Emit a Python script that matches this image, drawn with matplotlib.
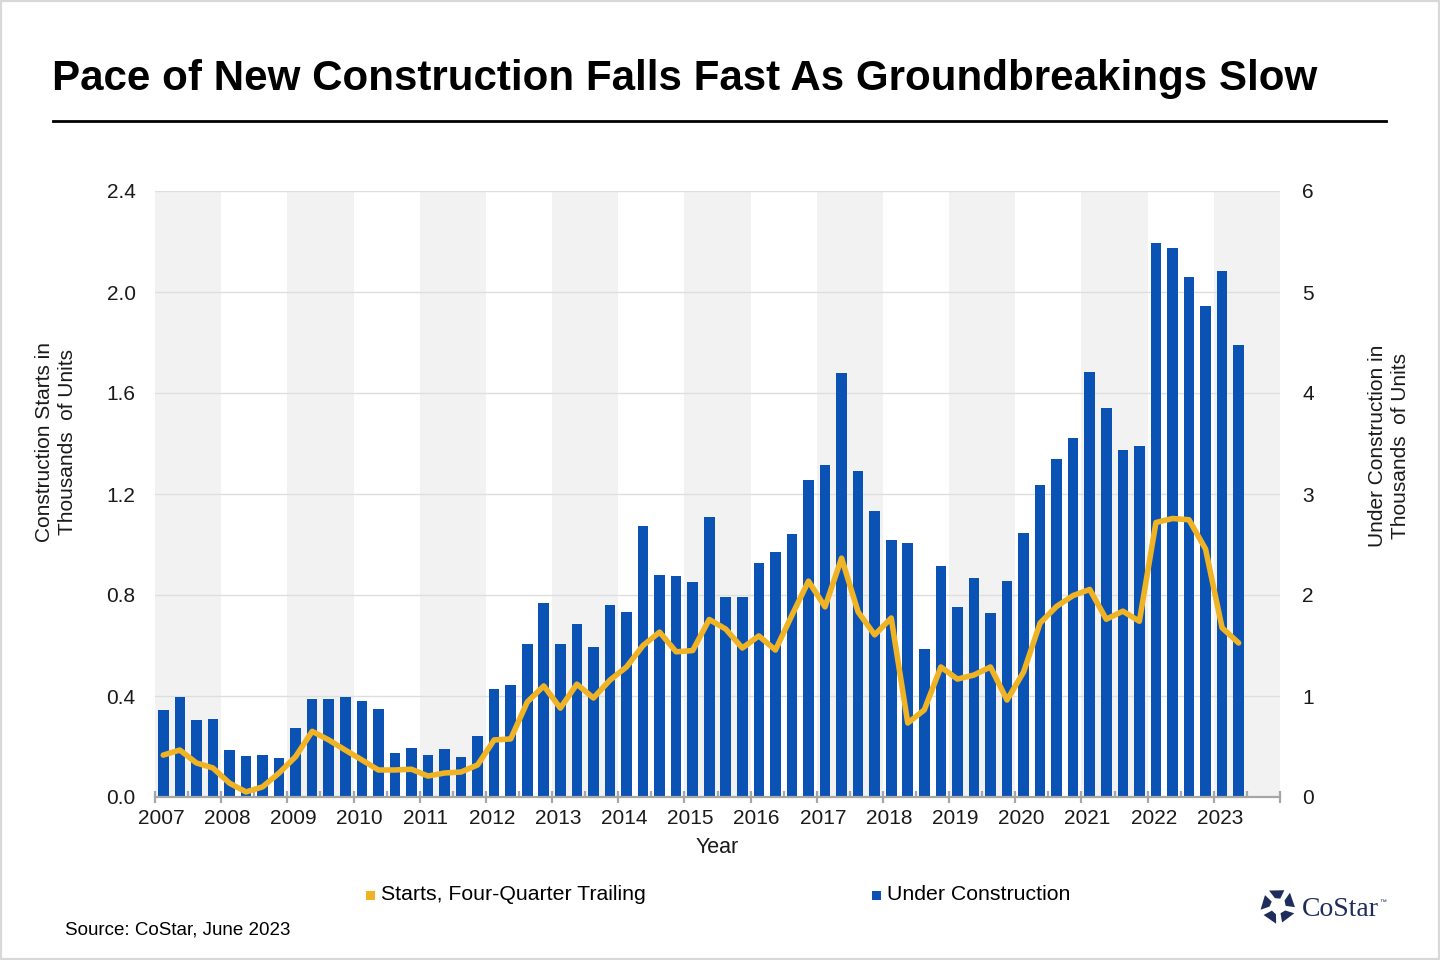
import matplotlib
matplotlib.use("Agg")
import matplotlib.pyplot as plt
import matplotlib.transforms as mtransforms
from matplotlib.patches import Rectangle, Polygon
import numpy as np

plt.rcParams['font.family'] = ['Liberation Sans', 'DejaVu Sans']

years = list(range(2007, 2024))
year_labels = [str(y) for y in years]

# Under Construction (thousands of units), quarterly 2007Q1 - 2023Q2 (right axis)
under_construction = [
    0.86, 0.99, 0.76, 0.77,   # 2007
    0.47, 0.41, 0.42, 0.39,   # 2008
    0.68, 0.97, 0.97, 0.99,   # 2009
    0.95, 0.87, 0.44, 0.49,   # 2010
    0.42, 0.48, 0.40, 0.60,   # 2011
    1.07, 1.11, 1.51, 1.92,   # 2012
    1.51, 1.71, 1.49, 1.90,   # 2013
    1.83, 2.68, 2.20, 2.19,   # 2014
    2.13, 2.77, 1.98, 1.98,   # 2015
    2.32, 2.43, 2.60, 3.14,   # 2016
    3.29, 4.20, 3.23, 2.83,   # 2017
    2.54, 2.51, 1.47, 2.29,   # 2018
    1.88, 2.17, 1.82, 2.14,   # 2019
    2.61, 3.09, 3.35, 3.55,   # 2020
    4.21, 3.85, 3.44, 3.48,   # 2021
    5.49, 5.44, 5.15, 4.86,   # 2022
    5.21, 4.48,               # 2023
]

# Starts, four-quarter trailing (thousands of units) (left axis)
starts = [
    0.166, 0.186, 0.135, 0.115,
    0.055, 0.020, 0.040, 0.095,
    0.160, 0.260, 0.226, 0.186,
    0.147, 0.107, 0.107, 0.110,
    0.083, 0.095, 0.099, 0.127,
    0.226, 0.230, 0.376, 0.440,
    0.352, 0.447, 0.392, 0.463,
    0.515, 0.600, 0.653, 0.575,
    0.580, 0.703, 0.665, 0.590,
    0.638, 0.582, 0.720, 0.855,
    0.753, 0.946, 0.733, 0.642,
    0.709, 0.293, 0.345, 0.515,
    0.467, 0.483, 0.515, 0.384,
    0.495, 0.689, 0.755, 0.798,
    0.822, 0.704, 0.736, 0.696,
    1.087, 1.103, 1.098, 0.982,
    0.670, 0.610,
]

left_ticks = [0.0, 0.4, 0.8, 1.2, 1.6, 2.0, 2.4]
right_ticks = [0, 1, 2, 3, 4, 5, 6]

BAR = '#0a52b4'
LINE = '#f0b323'
GRID = '#dedede'
BAND = '#f2f2f2'
AXC = '#a6a6a6'
TXT = '#1a1a1a'
FS = 15

fig = plt.figure(figsize=(14.4, 9.6), dpi=100)
fig.patch.set_facecolor('white')

ax = fig.add_axes([155/1440, 1-797/960, (1280-155)/1440, (797-191)/960])
ax2 = ax.twinx()

n_slots = len(years) * 4
x = np.arange(len(under_construction)) + 0.5

# alternating year bands
for i, y in enumerate(years):
    if i % 2 == 0:
        ax.axvspan(i*4, i*4+4, color=BAND, zorder=0, lw=0)

ax.bar(x, under_construction, width=0.64, color=BAR, zorder=2)
ax.set_ylim(0, 6)
ax.set_yticks(right_ticks)
ax.set_yticklabels([str(t) for t in right_ticks])
ax.yaxis.tick_right()
ax.yaxis.set_label_position('right')
ax.set_axisbelow(True)
ax.grid(axis='y', color=GRID, lw=1.0, zorder=0.5)
ax.set_xlim(0, n_slots)

ax2.plot(x, starts, color=LINE, lw=4, zorder=3, solid_joinstyle='round', solid_capstyle='round')
ax2.set_ylim(0, 2.4)
ax2.set_yticks(left_ticks)
ax2.set_yticklabels([f'{t:.1f}' for t in left_ticks])
ax2.yaxis.tick_left()
ax2.yaxis.set_label_position('left')

for a in (ax, ax2):
    for s in ['top', 'left', 'right', 'bottom']:
        a.spines[s].set_visible(False)
ax.spines['bottom'].set_visible(True)
ax.spines['bottom'].set_color(AXC)
ax.spines['bottom'].set_linewidth(1.6)

ax.tick_params(axis='y', length=0, pad=16, labelsize=FS, labelcolor=TXT)
ax2.tick_params(axis='y', length=0, pad=14, labelsize=FS, labelcolor=TXT)

ax.set_xticks(np.arange(0, n_slots + 1, 4))
ax.set_xticklabels(year_labels + [''])
ax.set_xticks(np.arange(2, n_slots, 4), minor=True)
ax.tick_params(axis='x', which='major', direction='inout', length=8, width=1.6,
               color=AXC, labelsize=FS, pad=5, labelcolor=TXT)
ax.tick_params(axis='x', which='minor', direction='in', length=4, width=1.6, color=AXC)
offset = mtransforms.ScaledTranslation(6/100, 0, fig.dpi_scale_trans)
for lab in ax.get_xticklabels():
    lab.set_transform(lab.get_transform() + offset)

ax.set_xlabel('Year', fontsize=15.5, labelpad=6, color=TXT)
ax2.set_ylabel('Construction Starts in\nThousands  of Units', fontsize=FS, labelpad=21,
               color=TXT, linespacing=1.25, y=0.586)
ax.set_ylabel('Under Construction in\nThousands  of Units', fontsize=FS, labelpad=39,
              color=TXT, linespacing=1.25, rotation=90, y=0.579)

# Title and rule
fig.text(52/1440, 1-79/960, 'Pace of New Construction Falls Fast As Groundbreakings Slow',
         fontsize=30.3, fontweight='bold', va='center', ha='left', color='black')
fig.add_artist(plt.Line2D([53/1440, 1386/1440], [1-121/960, 1-121/960], color='black', lw=2))

# Legend
fig.add_artist(Rectangle((366/1440, 1-900/960), 9/1440, 9/960, color=LINE, lw=0))
fig.text(381/1440, 1-895/960, 'Starts, Four-Quarter Trailing', fontsize=15.3, va='center', ha='left')
fig.add_artist(Rectangle((872/1440, 1-900/960), 9/1440, 9/960, color=BAR, lw=0))
fig.text(887/1440, 1-895/960, 'Under Construction', fontsize=15.3, va='center', ha='left')

# Source
fig.text(65/1440, 1-930/960, 'Source: CoStar, June 2023', fontsize=13.5, va='center', ha='left')

# CoStar logo (approximation)
NAVY = '#1e2d5c'
cx, cy, r = 1278, 906, 17
for k in range(5):
    ang = np.deg2rad(90 + k*72)
    a1 = ang - np.deg2rad(22)
    a2 = ang + np.deg2rad(22)
    pts = [(cx + r*np.cos(a1), cy - r*np.sin(a1)),
           (cx + r*1.05*np.cos(ang + np.deg2rad(30)), cy - r*1.05*np.sin(ang + np.deg2rad(30))),
           (cx + r*0.5*np.cos(a2), cy - r*0.5*np.sin(a2)),
           (cx + r*0.45*np.cos(a1 + np.deg2rad(5)), cy - r*0.45*np.sin(a1 + np.deg2rad(5)))]
    pts = [(px/1440, 1-py/960) for px, py in pts]
    fig.add_artist(Polygon(pts, closed=True, color=NAVY, lw=0))
fig.text(1302/1440, 1-909/960, 'CoStar', fontsize=20, family='Liberation Serif',
         va='center', ha='left', color=NAVY)
fig.text(1379/1440, 1-902/960, '™', fontsize=5, va='center', ha='left', color=NAVY)

# outer border
fig.add_artist(Rectangle((0, 0), 1, 1, transform=fig.transFigure, fill=False,
                         edgecolor='#d9d9d9', lw=3))

fig.savefig('out.png', dpi=100)
